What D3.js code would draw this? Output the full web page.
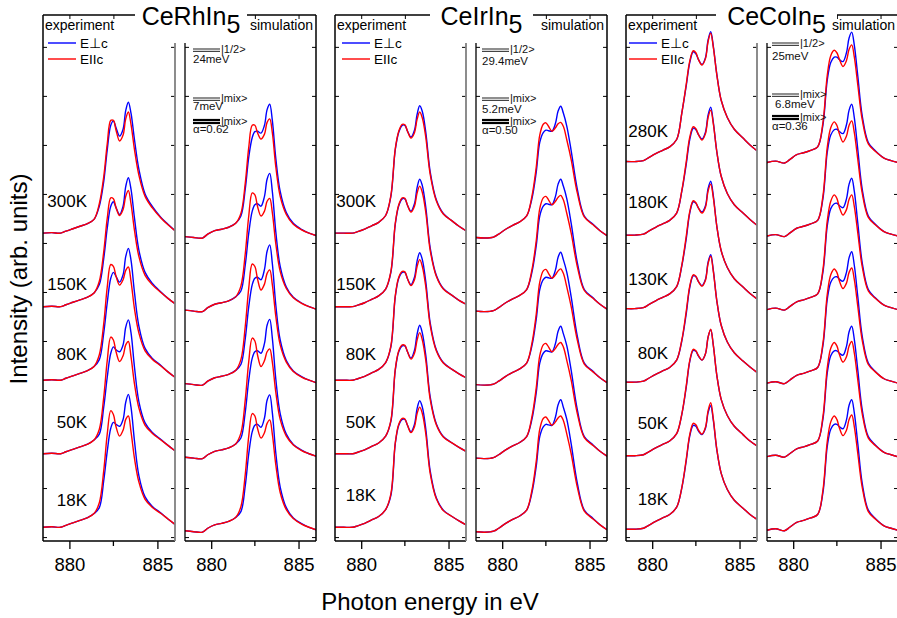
<!DOCTYPE html>
<html>
<head>
<meta charset="utf-8">
<script src="https://cdn.jsdelivr.net/npm/d3@7"></script>
<style>
  body { margin: 0; background: #fff; }
  svg { display: block; font-family: "Liberation Sans", Arial, sans-serif; }
</style>
</head>
<body>
<div id="chart"></div>
<script>
// energy grids (eV): shared pre-edge part and the main line part
const edgeEnergy = [878.5, 879.0, 879.5, 879.8, 880.2, 880.6, 881.0, 881.4];
const peakEnergy = [881.7, 881.95, 882.15, 882.35, 882.5, 882.65, 882.85, 883.05, 883.2,
                    883.35, 883.5, 883.7, 883.95, 884.3, 884.7, 885.2, 885.6, 886.0];

// ---- CeRhIn5 experiment
const rhExpTemps = ["300K", "150K", "80K", "50K", "18K"];
const rhExpOffsets = [6.2, 4.7, 3.2, 1.7, 0.2];
const rhExpEdge = [0.00, 0.01, 0.00, 0.04, 0.09, 0.14, 0.19, 0.28];
const rhExpPerp = [
  [0.55, 1.05, 1.70, 2.20, 2.29, 2.15, 1.98, 2.12, 2.50, 2.67, 2.45, 1.90, 1.30, 0.80, 0.55, 0.32, 0.18, 0.05],
  [0.45, 0.98, 1.60, 2.05, 2.14, 2.02, 1.88, 2.05, 2.45, 2.63, 2.40, 1.80, 1.15, 0.70, 0.48, 0.30, 0.17, 0.06],
  [0.42, 0.96, 1.58, 2.08, 2.20, 2.12, 2.00, 2.15, 2.52, 2.69, 2.45, 1.78, 1.10, 0.65, 0.45, 0.30, 0.17, 0.06],
  [0.40, 0.95, 1.56, 2.05, 2.18, 2.12, 2.08, 2.22, 2.58, 2.73, 2.47, 1.76, 1.06, 0.63, 0.44, 0.29, 0.17, 0.06],
  [0.40, 0.95, 1.55, 2.02, 2.14, 2.10, 2.06, 2.20, 2.55, 2.71, 2.45, 1.75, 1.05, 0.62, 0.43, 0.29, 0.17, 0.06]
];
const rhExpPara = [
  [0.60, 1.15, 1.82, 2.30, 2.30, 2.10, 1.88, 2.00, 2.33, 2.47, 2.22, 1.70, 1.18, 0.75, 0.52, 0.31, 0.17, 0.05],
  [0.52, 1.12, 1.80, 2.22, 2.20, 2.02, 1.86, 1.98, 2.25, 2.37, 2.10, 1.55, 1.02, 0.64, 0.45, 0.29, 0.17, 0.06],
  [0.52, 1.15, 1.90, 2.36, 2.32, 2.12, 1.94, 2.05, 2.24, 2.31, 2.02, 1.45, 0.96, 0.60, 0.43, 0.29, 0.17, 0.06],
  [0.50, 1.15, 1.90, 2.38, 2.32, 2.08, 1.88, 2.00, 2.22, 2.29, 1.98, 1.42, 0.93, 0.58, 0.42, 0.28, 0.17, 0.06],
  [0.50, 1.15, 1.90, 2.38, 2.30, 2.05, 1.86, 1.98, 2.20, 2.27, 1.95, 1.40, 0.92, 0.57, 0.41, 0.28, 0.17, 0.06]
];

// ---- CeRhIn5 simulation
const rhSimOffsets = [6.1, 4.6, 3.1, 1.6, 0.1];
const rhSimEdge = [0.03, 0.01, 0.00, 0.08, 0.15, 0.18, 0.22, 0.30];
const rhSimPerp = [
  [0.45, 1.00, 1.65, 2.05, 2.17, 2.18, 2.14, 2.30, 2.62, 2.73, 2.40, 1.62, 0.95, 0.52, 0.30, 0.17, 0.10, 0.05],
  [0.42, 0.95, 1.60, 2.05, 2.18, 2.20, 2.15, 2.35, 2.70, 2.82, 2.45, 1.62, 0.92, 0.50, 0.29, 0.17, 0.10, 0.05],
  [0.42, 0.95, 1.60, 2.05, 2.18, 2.20, 2.15, 2.36, 2.73, 2.86, 2.48, 1.63, 0.92, 0.50, 0.29, 0.17, 0.10, 0.05],
  [0.42, 0.95, 1.60, 2.05, 2.18, 2.20, 2.15, 2.35, 2.72, 2.84, 2.46, 1.62, 0.92, 0.50, 0.29, 0.17, 0.10, 0.05],
  [0.42, 0.95, 1.60, 2.05, 2.18, 2.20, 2.14, 2.33, 2.69, 2.80, 2.44, 1.61, 0.92, 0.50, 0.29, 0.17, 0.10, 0.05]
];
const rhSimPara = [
  [0.50, 1.12, 1.85, 2.30, 2.30, 2.15, 2.02, 2.12, 2.36, 2.43, 2.15, 1.45, 0.85, 0.48, 0.28, 0.16, 0.10, 0.05],
  [0.52, 1.18, 1.95, 2.42, 2.38, 2.15, 1.95, 2.05, 2.25, 2.31, 2.02, 1.38, 0.82, 0.47, 0.28, 0.16, 0.10, 0.05],
  [0.52, 1.20, 1.98, 2.47, 2.42, 2.17, 1.94, 2.06, 2.28, 2.35, 2.05, 1.40, 0.82, 0.47, 0.28, 0.16, 0.10, 0.05],
  [0.52, 1.20, 1.98, 2.46, 2.40, 2.12, 1.88, 2.00, 2.18, 2.24, 1.97, 1.35, 0.80, 0.46, 0.28, 0.16, 0.10, 0.05],
  [0.52, 1.18, 1.96, 2.42, 2.37, 2.12, 1.92, 2.03, 2.22, 2.29, 2.00, 1.37, 0.81, 0.46, 0.28, 0.16, 0.10, 0.05]
];
const rhSimLevels = ["24meV", "7meV", "\u03b1=0.62"];

// ---- CeIrIn5 experiment
const irExpTemps = ["300K", "150K", "80K", "50K", "18K"];
const irExpOffsets = [6.2, 4.7, 3.2, 1.7, 0.2];
const irExpEdge = [0.00, 0.00, 0.00, 0.03, 0.08, 0.15, 0.22, 0.36];
const irExpPerp = [
  [0.75, 1.70, 2.06, 2.20, 2.20, 2.08, 1.96, 2.10, 2.42, 2.60, 2.48, 2.05, 1.25, 0.68, 0.40, 0.25, 0.14, 0.05],
  [0.70, 1.68, 2.06, 2.20, 2.20, 2.07, 1.95, 2.10, 2.43, 2.60, 2.47, 2.02, 1.20, 0.64, 0.37, 0.23, 0.13, 0.05],
  [0.68, 1.70, 2.08, 2.20, 2.20, 2.07, 1.95, 2.10, 2.43, 2.60, 2.46, 2.00, 1.17, 0.62, 0.36, 0.22, 0.13, 0.05],
  [0.66, 1.70, 2.08, 2.20, 2.20, 2.08, 1.95, 2.11, 2.44, 2.62, 2.46, 2.00, 1.16, 0.61, 0.35, 0.22, 0.13, 0.05],
  [0.65, 1.70, 2.08, 2.20, 2.20, 2.08, 1.95, 2.10, 2.42, 2.58, 2.45, 2.00, 1.15, 0.60, 0.35, 0.22, 0.13, 0.05]
];
const irExpPara = [
  [0.77, 1.72, 2.08, 2.22, 2.21, 2.08, 1.94, 2.05, 2.32, 2.47, 2.35, 1.95, 1.20, 0.66, 0.39, 0.25, 0.14, 0.05],
  [0.72, 1.70, 2.08, 2.22, 2.21, 2.07, 1.93, 2.05, 2.32, 2.46, 2.33, 1.92, 1.15, 0.62, 0.36, 0.23, 0.13, 0.05],
  [0.70, 1.72, 2.10, 2.22, 2.21, 2.07, 1.93, 2.05, 2.32, 2.46, 2.32, 1.90, 1.12, 0.60, 0.35, 0.22, 0.13, 0.05],
  [0.68, 1.72, 2.10, 2.22, 2.21, 2.08, 1.93, 2.05, 2.32, 2.47, 2.32, 1.90, 1.11, 0.59, 0.34, 0.22, 0.13, 0.05],
  [0.68, 1.72, 2.10, 2.22, 2.21, 2.08, 1.93, 2.05, 2.32, 2.45, 2.32, 1.90, 1.10, 0.58, 0.34, 0.22, 0.13, 0.05]
];

// ---- CeIrIn5 simulation
const irSimOffsets = [6.1, 4.6, 3.1, 1.6, 0.1];
const irSimEdge = [0.01, 0.00, 0.02, 0.08, 0.18, 0.26, 0.33, 0.45];
const irSimPerp = [
  [0.80, 1.35, 1.95, 2.15, 2.20, 2.19, 2.18, 2.34, 2.59, 2.69, 2.55, 2.28, 1.78, 1.00, 0.45, 0.28, 0.15, 0.05],
  [0.80, 1.35, 1.95, 2.15, 2.20, 2.19, 2.18, 2.35, 2.60, 2.70, 2.56, 2.30, 1.80, 1.00, 0.45, 0.28, 0.15, 0.05],
  [0.80, 1.35, 1.95, 2.15, 2.20, 2.19, 2.18, 2.35, 2.61, 2.71, 2.56, 2.30, 1.80, 1.00, 0.45, 0.28, 0.15, 0.05],
  [0.80, 1.35, 1.95, 2.15, 2.20, 2.19, 2.18, 2.35, 2.60, 2.70, 2.55, 2.30, 1.80, 1.00, 0.45, 0.28, 0.15, 0.05],
  [0.80, 1.35, 1.95, 2.15, 2.20, 2.19, 2.18, 2.35, 2.60, 2.70, 2.55, 2.30, 1.80, 1.00, 0.45, 0.28, 0.15, 0.05]
];
const irSimPara = [
  [0.85, 1.45, 2.10, 2.32, 2.35, 2.28, 2.18, 2.25, 2.33, 2.36, 2.28, 2.00, 1.60, 0.92, 0.43, 0.27, 0.15, 0.05],
  [0.85, 1.45, 2.10, 2.32, 2.35, 2.28, 2.18, 2.25, 2.33, 2.37, 2.28, 2.00, 1.60, 0.92, 0.43, 0.27, 0.15, 0.05],
  [0.85, 1.45, 2.10, 2.33, 2.36, 2.28, 2.18, 2.25, 2.33, 2.37, 2.28, 2.00, 1.60, 0.92, 0.43, 0.27, 0.15, 0.05],
  [0.85, 1.45, 2.10, 2.32, 2.35, 2.28, 2.18, 2.25, 2.33, 2.37, 2.28, 2.00, 1.60, 0.92, 0.43, 0.27, 0.15, 0.05],
  [0.85, 1.45, 2.10, 2.32, 2.35, 2.28, 2.18, 2.25, 2.33, 2.37, 2.28, 2.00, 1.60, 0.92, 0.43, 0.27, 0.15, 0.05]
];
const irSimLevels = ["29.4meV", "5.2meV", "\u03b1=0.50"];

// ---- CeCoIn5 experiment
const coExpTemps = ["280K", "180K", "130K", "80K", "50K", "18K"];
const coExpOffsets = [7.66, 6.16, 4.66, 3.16, 1.66, 0.16];
const coExpEdge = [0.00, 0.00, 0.02, 0.08, 0.16, 0.23, 0.30, 0.45];
const coExpPerp = [
  [1.00, 1.55, 2.02, 2.24, 2.20, 2.08, 1.98, 2.12, 2.48, 2.65, 2.35, 1.78, 1.25, 0.90, 0.66, 0.48, 0.34, 0.22],
  [0.90, 1.45, 1.95, 2.18, 2.15, 2.05, 1.96, 2.10, 2.45, 2.61, 2.30, 1.70, 1.20, 0.85, 0.62, 0.45, 0.32, 0.20],
  [0.88, 1.43, 1.95, 2.18, 2.15, 2.05, 1.97, 2.10, 2.45, 2.60, 2.30, 1.68, 1.18, 0.84, 0.61, 0.44, 0.31, 0.20],
  [0.85, 1.40, 1.93, 2.17, 2.15, 2.05, 1.97, 2.10, 2.45, 2.60, 2.28, 1.66, 1.16, 0.82, 0.60, 0.43, 0.31, 0.20],
  [0.85, 1.40, 1.92, 2.15, 2.13, 2.03, 1.95, 2.08, 2.42, 2.57, 2.25, 1.64, 1.15, 0.82, 0.60, 0.43, 0.30, 0.20],
  [0.85, 1.40, 1.90, 2.12, 2.10, 2.00, 1.93, 2.06, 2.38, 2.52, 2.22, 1.62, 1.14, 0.81, 0.59, 0.43, 0.30, 0.20]
];
const coExpPara = [
  [1.00, 1.58, 2.05, 2.26, 2.22, 2.08, 1.97, 2.10, 2.45, 2.62, 2.33, 1.77, 1.25, 0.90, 0.66, 0.48, 0.34, 0.22],
  [0.92, 1.50, 2.00, 2.21, 2.17, 2.05, 1.94, 2.07, 2.40, 2.55, 2.27, 1.70, 1.20, 0.85, 0.62, 0.45, 0.32, 0.20],
  [0.90, 1.48, 1.98, 2.20, 2.16, 2.05, 1.95, 2.07, 2.40, 2.54, 2.26, 1.68, 1.18, 0.84, 0.61, 0.44, 0.31, 0.20],
  [0.87, 1.45, 1.96, 2.19, 2.16, 2.05, 1.96, 2.08, 2.42, 2.57, 2.26, 1.66, 1.16, 0.82, 0.60, 0.43, 0.31, 0.20],
  [0.86, 1.43, 1.94, 2.17, 2.14, 2.04, 1.95, 2.08, 2.42, 2.58, 2.25, 1.64, 1.15, 0.82, 0.60, 0.43, 0.30, 0.20],
  [0.86, 1.43, 1.93, 2.16, 2.13, 2.02, 1.94, 2.08, 2.42, 2.58, 2.25, 1.63, 1.14, 0.81, 0.59, 0.43, 0.30, 0.20]
];

// ---- CeCoIn5 simulation
const coSimOffsets = [7.6, 6.1, 4.6, 3.1, 1.6, 0.1];
const coSimEdge = [0.04, 0.07, 0.03, 0.10, 0.20, 0.24, 0.29, 0.36];
const coSimPerp = [
  [0.80, 1.72, 2.08, 2.19, 2.19, 2.14, 2.10, 2.28, 2.58, 2.70, 2.43, 1.80, 1.00, 0.45, 0.28, 0.13, 0.08, 0.04],
  [0.80, 1.75, 2.10, 2.21, 2.22, 2.17, 2.13, 2.31, 2.61, 2.73, 2.45, 1.80, 1.00, 0.45, 0.28, 0.13, 0.08, 0.04],
  [0.80, 1.75, 2.10, 2.20, 2.21, 2.16, 2.12, 2.30, 2.60, 2.72, 2.45, 1.80, 1.00, 0.45, 0.28, 0.13, 0.08, 0.04],
  [0.80, 1.75, 2.10, 2.20, 2.21, 2.16, 2.12, 2.30, 2.60, 2.72, 2.44, 1.80, 1.00, 0.45, 0.28, 0.13, 0.08, 0.04],
  [0.80, 1.75, 2.10, 2.20, 2.20, 2.15, 2.11, 2.29, 2.59, 2.70, 2.43, 1.80, 1.00, 0.45, 0.28, 0.13, 0.08, 0.04],
  [0.80, 1.75, 2.10, 2.20, 2.20, 2.15, 2.11, 2.29, 2.59, 2.70, 2.43, 1.80, 1.00, 0.45, 0.28, 0.13, 0.08, 0.04]
];
const coSimPara = [
  [0.85, 1.82, 2.22, 2.33, 2.28, 2.14, 2.00, 2.12, 2.35, 2.44, 2.19, 1.62, 0.92, 0.42, 0.27, 0.13, 0.08, 0.04],
  [0.85, 1.85, 2.25, 2.37, 2.30, 2.12, 1.96, 2.08, 2.30, 2.39, 2.15, 1.60, 0.92, 0.42, 0.27, 0.13, 0.08, 0.04],
  [0.85, 1.85, 2.25, 2.38, 2.31, 2.12, 1.97, 2.08, 2.29, 2.38, 2.14, 1.60, 0.92, 0.42, 0.27, 0.13, 0.08, 0.04],
  [0.85, 1.85, 2.25, 2.37, 2.30, 2.12, 1.97, 2.08, 2.30, 2.39, 2.15, 1.60, 0.92, 0.42, 0.27, 0.13, 0.08, 0.04],
  [0.85, 1.85, 2.25, 2.37, 2.30, 2.12, 1.97, 2.08, 2.30, 2.39, 2.15, 1.60, 0.92, 0.42, 0.27, 0.13, 0.08, 0.04],
  [0.85, 1.85, 2.25, 2.37, 2.30, 2.12, 1.97, 2.08, 2.30, 2.39, 2.15, 1.60, 0.92, 0.42, 0.27, 0.13, 0.08, 0.04]
];
const coSimLevels = ["25meV", "6.8meV", "\u03b1=0.36"];

const compounds = ["CeRhIn", "CeIrIn", "CeCoIn"];
const xTicks = [880, 885];

// ---------------- layout
const W = 897, H = 618;
const frameTop = 15, frameBottom = 541, headerY = 43;

const svg = d3.select("#chart").append("svg")
    .attr("width", W)
    .attr("height", H);

const y = d3.scaleLinear().domain([-0.08, 10.65]).range([frameBottom, frameTop]);

// one entry per sample: exp panel, sim panel, title gap
const groups = [
  { name: compounds[0], exp: [43, 175], sim: [185, 316], gap: [135, 247],
    temps: rhExpTemps, expOff: rhExpOffsets, expEdge: rhExpEdge, expPerp: rhExpPerp, expPara: rhExpPara,
    simOff: rhSimOffsets, simEdge: rhSimEdge, simPerp: rhSimPerp, simPara: rhSimPara, levels: rhSimLevels,
    labelX: 87, labelY: [207, 290, 360, 428, 506], legX: 48, annX: 193, annY: [49, 98, 120], annTxt: [63, 110, 133] },
  { name: compounds[1], exp: [335, 466], sim: [476, 607], gap: [430, 533],
    temps: irExpTemps, expOff: irExpOffsets, expEdge: irExpEdge, expPerp: irExpPerp, expPara: irExpPara,
    simOff: irSimOffsets, simEdge: irSimEdge, simPerp: irSimPerp, simPara: irSimPara, levels: irSimLevels,
    labelX: 376, labelY: [207, 290, 360, 428, 501], legX: 342, annX: 482, annY: [49, 98, 120], annTxt: [65, 113, 134] },
  { name: compounds[2], exp: [626, 757], sim: [767, 898], gap: [716, 837],
    temps: coExpTemps, expOff: coExpOffsets, expEdge: coExpEdge, expPerp: coExpPerp, expPara: coExpPara,
    simOff: coSimOffsets, simEdge: coSimEdge, simPerp: coSimPerp, simPara: coSimPara, levels: coSimLevels,
    labelX: 668, labelY: [137, 208, 285, 359, 429, 505], legX: 629, annX: 772, annY: [43, 94, 116], annTxt: [60, 108, 130] }
];

function toPoints(off, edge, vals) {
  return edgeEnergy.map((e, i) => [e, off + edge[i]])
    .concat(peakEnergy.map((e, i) => [e, off + vals[i]]));
}

let clipId = 0;
function drawPanel(range, offsets, edge, perp, para) {
  const x = d3.scaleLinear().domain([878.5, 886]).range(range);
  const g = svg.append("g");

  const id = "clip" + (clipId++);
  svg.append("clipPath").attr("id", id)
    .append("rect")
      .attr("x", range[0]).attr("y", frameTop)
      .attr("width", range[1] - range[0]).attr("height", frameBottom - frameTop);

  const line = d3.line()
    .x(d => x(d[0]))
    .y(d => y(d[1]))
    .curve(d3.curveCatmullRom.alpha(0.5));

  const curves = g.append("g").attr("clip-path", `url(#${id})`);
  offsets.forEach((off, i) => {
    curves.append("path")
      .attr("d", line(toPoints(off, edge, perp[i])))
      .attr("fill", "none").attr("stroke", "#0000ff").attr("stroke-width", 1.4);
    curves.append("path")
      .attr("d", line(toPoints(off, edge, para[i])))
      .attr("fill", "none").attr("stroke", "#ff0000").attr("stroke-width", 1.4);
  });

  // bottom axis, ticks outward
  const bx = g.append("g")
    .attr("transform", `translate(0,${frameBottom})`)
    .call(d3.axisBottom(x).tickValues(xTicks).tickSize(8).tickPadding(9).tickFormat(d3.format("d")));
  bx.select(".domain").remove();
  bx.selectAll("line").attr("stroke-width", 1.3);
  bx.selectAll("text").attr("font-size", 18.5).attr("font-family", "Liberation Sans, Arial, sans-serif");
  g.append("line")
    .attr("x1", x(882.5)).attr("x2", x(882.5))
    .attr("y1", frameBottom).attr("y2", frameBottom + 5)
    .attr("stroke", "#000").attr("stroke-width", 1.3);

  // top ticks, inward
  const tx = g.append("g")
    .attr("transform", `translate(0,${frameTop})`)
    .call(d3.axisTop(x).tickValues([880, 882.5, 885]).tickSize(-4).tickFormat(""));
  tx.select(".domain").remove();

  // y ticks, inward on both sides
  const ly = g.append("g")
    .attr("transform", `translate(${range[0]},0)`)
    .call(d3.axisLeft(y).tickValues(d3.range(0, 11)).tickSize(-4).tickFormat(""));
  ly.select(".domain").remove();
  const ry = g.append("g")
    .attr("transform", `translate(${range[1]},0)`)
    .call(d3.axisRight(y).tickValues(d3.range(0, 11)).tickSize(-4).tickFormat(""));
  ry.select(".domain").remove();

  // bottom frame line
  g.append("line")
    .attr("x1", range[0]).attr("x2", range[1])
    .attr("y1", frameBottom).attr("y2", frameBottom)
    .attr("stroke", "#000").attr("stroke-width", 1.5);
  return x;
}

groups.forEach(gr => {
  drawPanel(gr.exp, gr.expOff, gr.expEdge, gr.expPerp, gr.expPara);
  drawPanel(gr.sim, gr.simOff, gr.simEdge, gr.simPerp, gr.simPara);

  // frame: outer left/right full height, inner ones below the header
  const fl = (x1, y1, x2, y2, c, w) => svg.append("line")
    .attr("x1", x1).attr("y1", y1).attr("x2", x2).attr("y2", y2)
    .attr("stroke", c).attr("stroke-width", w);
  fl(gr.exp[0], frameTop, gr.exp[0], frameBottom, "#000", 1.5);
  fl(gr.sim[1], frameTop, gr.sim[1], frameBottom, "#000", 1.5);
  fl(gr.exp[1], headerY, gr.exp[1], frameBottom, "#808080", 1.8);
  fl(gr.sim[0], headerY, gr.sim[0], frameBottom, "#000", 1.3);
  fl(gr.exp[0], frameTop, gr.sim[1], frameTop, "#000", 1.5);

  // title over the top line
  svg.append("rect")
    .attr("x", gr.gap[0]).attr("y", 4)
    .attr("width", gr.gap[1] - gr.gap[0]).attr("height", 18)
    .attr("fill", "#fff");
  const t = svg.append("text")
    .attr("x", (gr.gap[0] + gr.gap[1]) / 2).attr("y", 25)
    .attr("text-anchor", "middle")
    .attr("font-size", 25);
  t.append("tspan").text(gr.name);
  t.append("tspan").attr("dy", 8).text("5");

  // header words
  svg.append("text").attr("x", gr.exp[0] + 2).attr("y", 30)
    .attr("font-size", 14).text("experiment");
  svg.append("text").attr("x", gr.sim[1] - 3).attr("y", 30)
    .attr("text-anchor", "end").attr("font-size", 14).text("simulation");

  // legend
  [["#0000ff", "E\u22a5c", 43], ["#ff0000", "EIIc", 59]].forEach(([c, lab, ly]) => {
    svg.append("line")
      .attr("x1", gr.legX).attr("x2", gr.legX + 28)
      .attr("y1", ly).attr("y2", ly)
      .attr("stroke", c).attr("stroke-width", 1.4);
    svg.append("text")
      .attr("x", gr.legX + 32).attr("y", ly + 5)
      .attr("font-size", 13.5).text(lab);
  });

  // temperature labels
  gr.temps.forEach((tLab, i) => {
    svg.append("text")
      .attr("x", gr.labelX).attr("y", gr.labelY[i])
      .attr("text-anchor", "end").attr("font-size", 17).text(tLab);
  });

  // level scheme of the simulation
  const kets = ["|1/2>", "|mix>", "|mix>"];
  gr.annY.forEach((ay, i) => {
    const thick = i === 2;
    const c = thick ? "#000" : "#444";
    const w = thick ? 2.2 : 1.2;
    const sep = thick ? 3 : 2.4;
    [0, sep].forEach(d => {
      svg.append("line")
        .attr("x1", gr.annX).attr("x2", gr.annX + 27)
        .attr("y1", ay + d).attr("y2", ay + d)
        .attr("stroke", c).attr("stroke-width", w);
    });
    svg.append("text")
      .attr("x", gr.annX + 28).attr("y", ay + 4 + (thick ? 1 : 0))
      .attr("font-size", 11).attr("fill", "#111").text(kets[i]);
    svg.append("text")
      .attr("x", gr.annX + (i === 1 && gr.name === "CeCoIn" ? 3 : 0)).attr("y", gr.annTxt[i])
      .attr("font-size", 11.5).attr("fill", "#111").text(gr.levels[i]);
  });
});

// axis titles
svg.append("text")
  .attr("x", 430).attr("y", 610)
  .attr("text-anchor", "middle").attr("font-size", 24)
  .text("Photon energy in eV");
svg.append("text")
  .attr("transform", "translate(27,279) rotate(-90)")
  .attr("text-anchor", "middle").attr("font-size", 24)
  .text("Intensity (arb. units)");
</script>
</body>
</html>
